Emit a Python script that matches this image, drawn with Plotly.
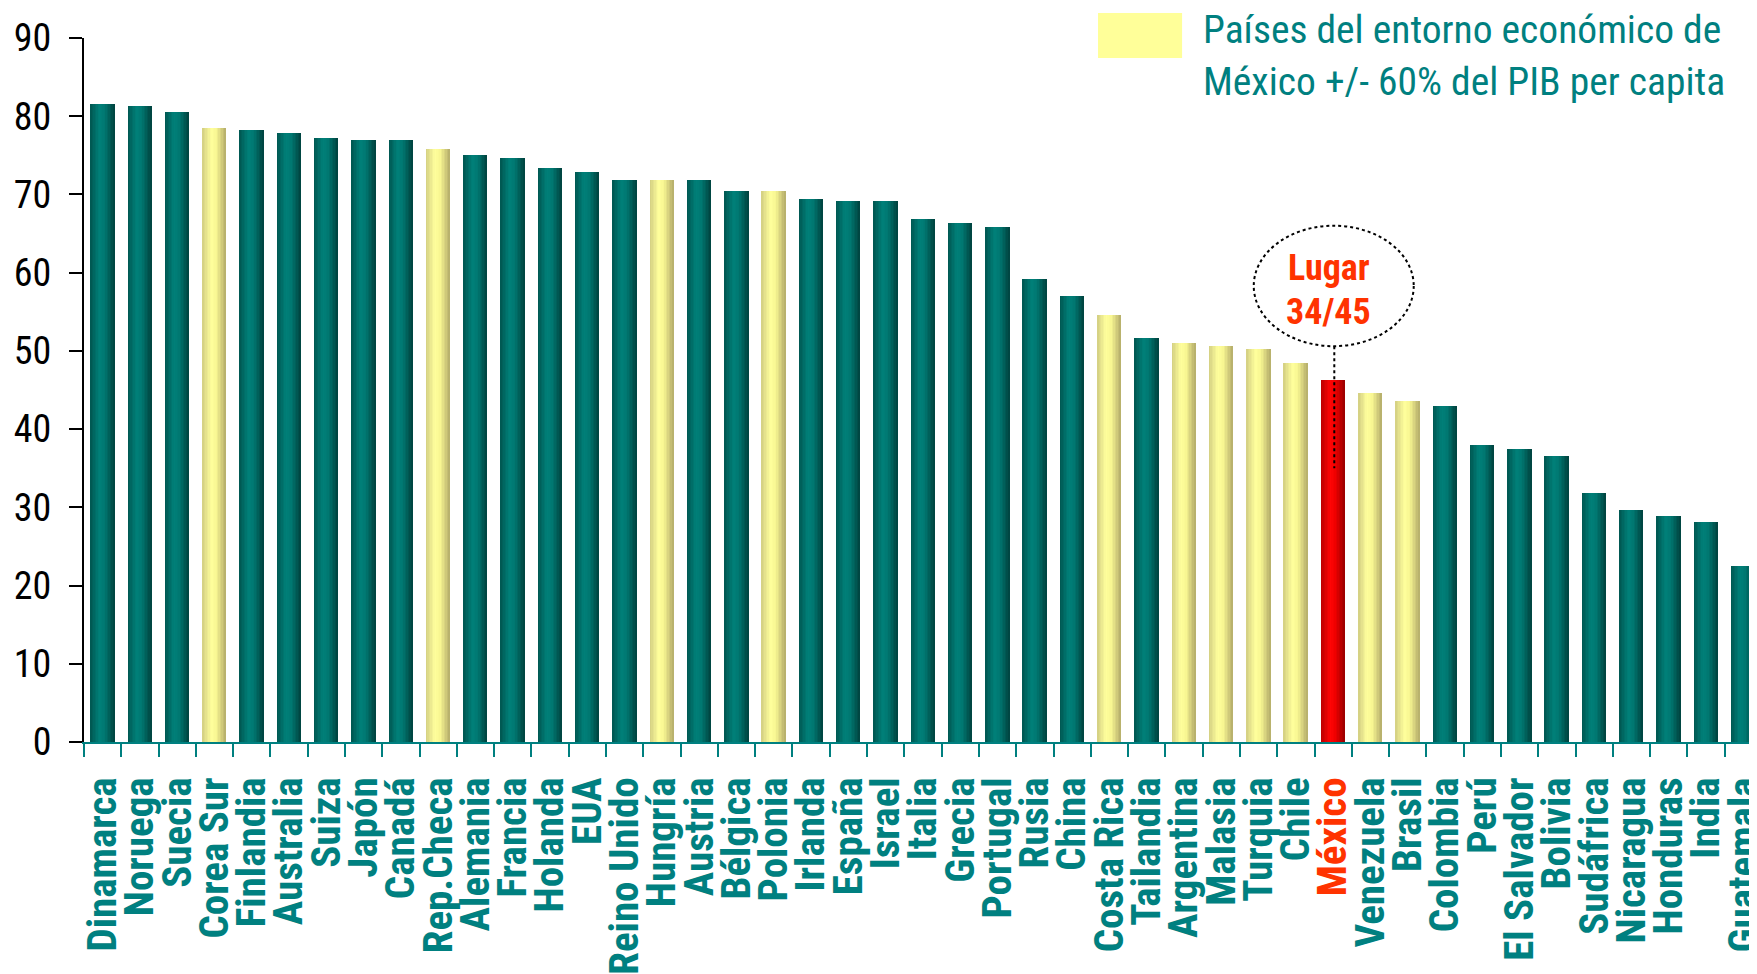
import plotly.graph_objects as go

# ---------------- data ----------------
countries = ["Dinamarca", "Noruega", "Suecia", "Corea Sur", "Finlandia", "Australia", "Suiza",
             "Japón", "Canadá", "Rep.Checa", "Alemania", "Francia", "Holanda", "EUA",
             "Reino Unido", "Hungría", "Austria", "Bélgica", "Polonia", "Irlanda", "España",
             "Israel", "Italia", "Grecia", "Portugal", "Rusia", "China", "Costa Rica",
             "Tailandia", "Argentina", "Malasia", "Turquia", "Chile", "México", "Venezuela",
             "Brasil", "Colombia", "Perú", "El Salvador", "Bolivia", "Sudáfrica", "Nicaragua",
             "Honduras", "India", "Guatemala"]
values = [81.5, 81.3, 80.5, 78.5, 78.2, 77.9, 77.2, 76.9, 76.9, 75.8, 75.1, 74.7, 73.4, 72.9,
          71.9, 71.9, 71.9, 70.5, 70.5, 69.4, 69.1, 69.1, 66.9, 66.4, 65.8, 59.2, 57.0, 54.6,
          51.6, 51.0, 50.6, 50.3, 48.4, 46.3, 44.6, 43.6, 43.0, 38.0, 37.4, 36.5, 31.8, 29.7,
          28.9, 28.1, 22.5]
peer_countries = ["Corea Sur", "Rep.Checa", "Hungría", "Polonia", "Costa Rica", "Argentina",
                  "Malasia", "Turquia", "Chile", "Venezuela", "Brasil"]
highlight = "México"
rank_text = ["Lugar", "34/45"]
legend_lines = ["Países del entorno económico de", "México +/- 60% del PIB per capita"]
y_ticks = [0, 10, 20, 30, 40, 50, 60, 70, 80, 90]

# ---------------- style ----------------
FONT = "Roboto Condensed, DejaVu Sans Condensed, Liberation Sans Narrow, Arial Narrow, sans-serif"
TEAL_TXT = "#008080"
RED_TXT = "#FF3300"

grad = {
    "base": [(0.0, (0x00, 0x55, 0x50)), (0.38, (0x00, 0x80, 0x79)), (0.6, (0x00, 0x78, 0x71)), (1.0, (0x00, 0x42, 0x3E))],
    "peer": [(0.0, (0xD2, 0xCE, 0x82)), (0.38, (0xFF, 0xFF, 0x9C)), (0.6, (0xF8, 0xF6, 0x92)), (1.0, (0xB4, 0xAC, 0x6A))],
    "mex":  [(0.0, (0xB8, 0x00, 0x00)), (0.4, (0xFF, 0x05, 0x05)), (0.6, (0xF0, 0x00, 0x00)), (1.0, (0x98, 0x00, 0x00))],
}


def color_at(stops, t):
    for (t0, c0), (t1, c1) in zip(stops, stops[1:]):
        if t0 <= t <= t1:
            f = (t - t0) / (t1 - t0)
            return "rgb(%d,%d,%d)" % tuple(round(a + (b - a) * f) for a, b in zip(c0, c1))
    return "rgb(%d,%d,%d)" % stops[-1][1]


groups = ["mex" if c == highlight else ("peer" if c in peer_countries else "base") for c in countries]

fig = go.Figure()
N = 16
W = 0.64
for i in range(N):
    t = (i + 0.5) / N
    cols = [color_at(grad[g], t) for g in groups]
    w = W / N + (0.006 if i < N - 1 else 0)
    fig.add_trace(go.Bar(
        x=countries, y=values, offset=-W / 2 + i * W / N, width=[w] * len(countries),
        marker=dict(color=cols, line=dict(width=0)), showlegend=False, hoverinfo="x+y"))

ticktext = [("<span style='color:%s'>%s</span>" % (RED_TXT, c)) if c == highlight else c for c in countries]

fig.update_layout(
    width=1757, height=974,
    margin=dict(l=76, r=3, t=30, b=240),
    paper_bgcolor="white", plot_bgcolor="white",
    barmode="overlay", bargap=0, showlegend=False,
    font=dict(family=FONT),
    xaxis=dict(
        type="category", tickmode="array", tickvals=countries, ticktext=ticktext,
        range=[-0.5, len(countries) - 0.5], automargin=False,
        tickangle=-90, tickfont=dict(family=FONT, size=41, color=TEAL_TXT, weight="bold"),
        ticks="outside", tickson="boundaries", ticklen=13, tickwidth=2, tickcolor=TEAL_TXT,
        showline=True, linecolor=TEAL_TXT, linewidth=2, showgrid=False, zeroline=False,
        ticklabelstandoff=17,
    ),
    yaxis=dict(
        range=[0, 90], tickmode="array", tickvals=y_ticks, automargin=False,
        tickfont=dict(family=FONT, size=38, color="black"),
        ticks="outside", ticklen=13, tickwidth=2, tickcolor="black",
        showline=True, linecolor="black", linewidth=2, showgrid=False, zeroline=False,
        ticklabelstandoff=10,
    ),
)

mi = countries.index(highlight)
# rank callout (ellipse + leader)
fig.add_shape(type="circle", xref="x", yref="y", x0=mi - 2.13, x1=mi + 2.16, y0=50.6, y1=66.0,
              line=dict(color="black", width=2, dash="dot"), fillcolor="rgba(255,255,255,0)")
fig.add_shape(type="line", xref="x", yref="y", x0=mi + 0.03, x1=mi + 0.03, y0=50.6, y1=35.0,
              line=dict(color="black", width=2, dash="dot"))
fig.add_annotation(x=mi - 0.12, y=60.6, xref="x", yref="y", text=rank_text[0], showarrow=False,
                   font=dict(family=FONT, size=36, color=RED_TXT, weight="bold"))
fig.add_annotation(x=mi - 0.12, y=55.0, xref="x", yref="y", text=rank_text[1], showarrow=False,
                   font=dict(family=FONT, size=36, color=RED_TXT, weight="bold"))

# legend box
fig.add_shape(type="rect", xref="paper", yref="paper", x0=0.6043, x1=0.6544, y0=0.9716, y1=1.0355,
              fillcolor="#FFFF99", line=dict(width=0))
fig.add_annotation(x=0.6657, y=1.012, xref="paper", yref="paper", xanchor="left", yanchor="middle",
                   text=legend_lines[0], showarrow=False, font=dict(family=FONT, size=39.5, color=TEAL_TXT))
fig.add_annotation(x=0.6657, y=0.938, xref="paper", yref="paper", xanchor="left", yanchor="middle",
                   text=legend_lines[1], showarrow=False, font=dict(family=FONT, size=39.5, color=TEAL_TXT))

fig.write_html("out.html")
